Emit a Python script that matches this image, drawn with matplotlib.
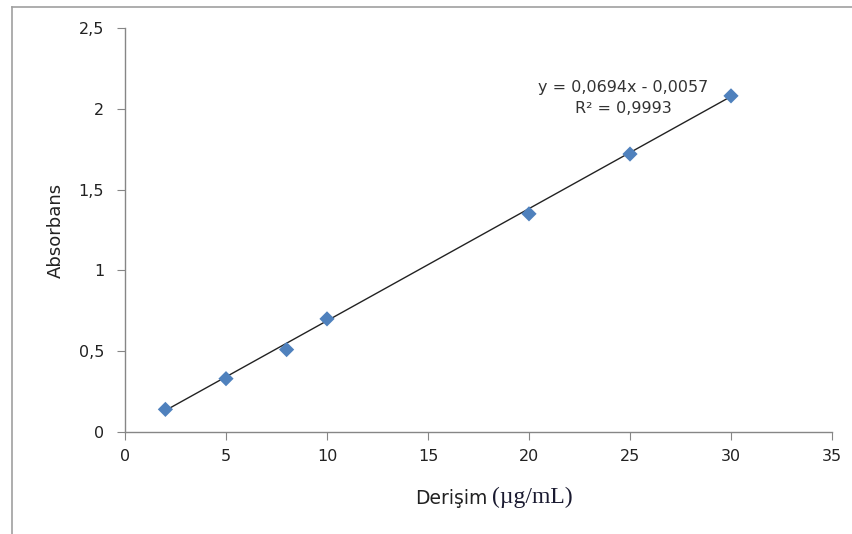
import numpy as np
import matplotlib.pyplot as plt
from matplotlib.lines import Line2D

# Calibration data
concentration = [2, 5, 8, 10, 20, 25, 30]
absorbance = [0.14, 0.33, 0.51, 0.70, 1.35, 1.72, 2.08]

slope = 0.0694
intercept = -0.0057
eq_text = "y = 0,0694x - 0,0057"
r2_text = "R² = 0,9993"

x_ticks = [0, 5, 10, 15, 20, 25, 30, 35]
y_ticks = [0, 0.5, 1, 1.5, 2, 2.5]
y_ticklabels = ["0", "0,5", "1", "1,5", "2", "2,5"]

plt.rcParams.update({
    "font.family": "DejaVu Sans",
    "font.size": 11,
})

fig = plt.figure(figsize=(8.53, 5.34), dpi=100)
ax = fig.add_axes([125 / 853, 1 - 432 / 534, (832 - 125) / 853, (432 - 28) / 534])

# trendline
xs = np.array([min(concentration), max(concentration)])
ax.plot(xs, slope * xs + intercept, color="#222222", lw=1.0, zorder=2)

# data points
ax.scatter(concentration, absorbance, marker="D", s=60, color="#4F81BD",
           edgecolors="none", zorder=3)

ax.set_xlim(0, 35)
ax.set_ylim(0, 2.5)
ax.set_xticks(x_ticks)
ax.set_xticklabels([str(t) for t in x_ticks])
ax.set_yticks(y_ticks)
ax.set_yticklabels(y_ticklabels)

for s in ["top", "right"]:
    ax.spines[s].set_visible(False)
for s in ["left", "bottom"]:
    ax.spines[s].set_color("#868686")
    ax.spines[s].set_linewidth(1.0)
ax.tick_params(direction="out", length=6, color="#868686", labelcolor="#222222",
               labelsize=11.5, pad=6)
ax.tick_params(axis="y", pad=9)

ax.set_ylabel("Absorbans", fontsize=13, color="#222222", labelpad=10)

# equation annotation
ax.text(24.65, 2.13, eq_text, ha="center", va="center", fontsize=11.5, color="#333333")
ax.text(24.65, 2.0, r2_text, ha="center", va="center", fontsize=11.5, color="#333333")

# x label in two fonts
fig.text(488 / 853, 1 - 498 / 534, "Derişim", ha="right", va="center",
         fontsize=13.5, color="#222222")
fig.text(492 / 853, 1 - 497 / 534, "(µg/mL)", ha="left", va="center",
         fontsize=17, family="Liberation Serif", color="#1a1a30")

# outer chart frame
frame_col = "#a0a0a0"
fig.add_artist(Line2D([12 / 853, 1], [1 - 7 / 534, 1 - 7 / 534],
                      transform=fig.transFigure, color=frame_col, lw=1.2))
fig.add_artist(Line2D([12 / 853, 12 / 853], [0, 1 - 7 / 534],
                      transform=fig.transFigure, color=frame_col, lw=1.2))

fig.savefig("out.png", dpi=100)
